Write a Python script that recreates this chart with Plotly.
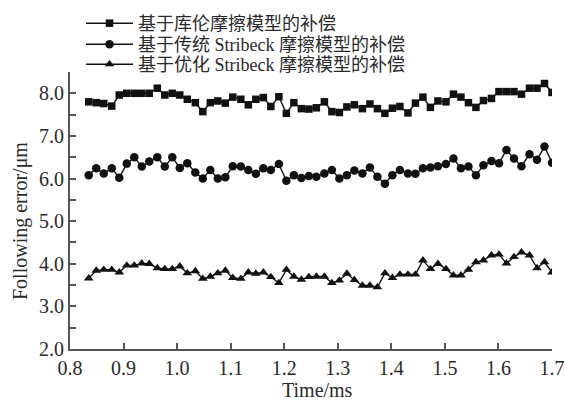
import plotly.graph_objects as go

time_ms = [0.835, 0.849, 0.863, 0.878, 0.892, 0.906, 0.920, 0.934, 0.948, 0.963,
           0.977, 0.991, 1.005, 1.019, 1.034, 1.048, 1.062, 1.076, 1.090, 1.104,
           1.119, 1.133, 1.147, 1.161, 1.175, 1.190, 1.204, 1.218, 1.232, 1.246,
           1.260, 1.275, 1.289, 1.303, 1.317, 1.331, 1.346, 1.360, 1.374, 1.388,
           1.402, 1.416, 1.431, 1.445, 1.459, 1.473, 1.487, 1.502, 1.516, 1.530,
           1.544, 1.558, 1.572, 1.587, 1.601, 1.615, 1.629, 1.643, 1.658, 1.672,
           1.686, 1.700]

coulomb = [7.80, 7.78, 7.76, 7.70, 7.96, 8.00, 8.00, 8.00, 8.00, 8.12,
           7.96, 8.00, 7.96, 7.86, 7.78, 7.57, 7.78, 7.82, 7.77, 7.91,
           7.86, 7.73, 7.86, 7.90, 7.69, 7.92, 7.53, 7.78, 7.64, 7.63,
           7.66, 7.80, 7.57, 7.55, 7.68, 7.73, 7.64, 7.75, 7.64, 7.53,
           7.65, 7.69, 7.54, 7.77, 7.91, 7.67, 7.82, 7.80, 7.98, 7.91,
           7.78, 7.67, 7.83, 7.88, 8.04, 8.04, 8.04, 7.98, 8.12, 8.12,
           8.23, 8.02]

stribeck = [6.08, 6.24, 6.12, 6.24, 6.02, 6.35, 6.50, 6.28, 6.40, 6.50,
            6.28, 6.50, 6.25, 6.36, 6.14, 6.00, 6.20, 6.00, 6.03, 6.29,
            6.28, 6.20, 6.11, 6.24, 6.20, 6.34, 5.95, 6.08, 6.01, 6.06,
            6.04, 6.12, 6.20, 6.00, 6.08, 6.19, 6.12, 6.26, 6.04, 5.88,
            6.08, 6.20, 6.12, 6.11, 6.24, 6.26, 6.29, 6.34, 6.47, 6.24,
            6.28, 6.08, 6.31, 6.41, 6.36, 6.67, 6.47, 6.29, 6.57, 6.44,
            6.75, 6.37]

optimized = [3.66, 3.84, 3.86, 3.86, 3.80, 3.96, 3.96, 4.01, 4.00, 3.90,
             3.88, 3.88, 3.94, 3.78, 3.83, 3.65, 3.70, 3.78, 3.84, 3.67,
             3.65, 3.80, 3.77, 3.80, 3.69, 3.55, 3.86, 3.70, 3.63, 3.69,
             3.70, 3.70, 3.55, 3.61, 3.77, 3.62, 3.49, 3.49, 3.45, 3.78,
             3.67, 3.75, 3.75, 3.75, 4.08, 3.88, 4.00, 3.88, 3.73, 3.73,
             3.86, 4.04, 4.08, 4.20, 4.22, 4.01, 4.16, 4.27, 4.20, 3.90,
             4.04, 3.80]

series_names = ["基于库伦摩擦模型的补偿",
                "基于传统 Stribeck 摩擦模型的补偿",
                "基于优化 Stribeck 摩擦模型的补偿"]

x_tick_vals = [0.8, 0.9, 1.0, 1.1, 1.2, 1.3, 1.4, 1.5, 1.6, 1.7]
x_tick_text = ["0.8", "0.9", "1.0", "1.1", "1.2", "1.3", "1.4", "1.5", "1.6", "1.7"]
y_tick_vals = [2.0, 2.5, 3.0, 3.5, 4.0, 4.5, 5.0, 5.5, 6.0, 6.5, 7.0, 7.5, 8.0, 8.5]
y_tick_text = ["2.0", "", "3.0", "", "4.0", "", "5.0", "", "6.0", "", "7.0", "", "8.0", ""]
x_title = "Time/ms"
y_title = "Following error/μm"

SERIF = "Liberation Serif, 'Times New Roman', 'Noto Sans CJK SC', serif"
INK = "#111111"
TXT = "#2a2a2a"
AXIS = "#555555"

W, H = 565, 401
ML, MR, MT, MB = 70, 13, 72, 52

legend_ids = ["legend", "legend2", "legend3"]
legend_rows_px = [23.5, 44.5, 64.5]  # row centres from top

fig = go.Figure()
for name, ys, sym, size, lid in [(series_names[0], coulomb, "square", 7.5, legend_ids[0]),
                                 (series_names[1], stribeck, "circle", 8.5, legend_ids[1]),
                                 (series_names[2], optimized, "triangle-up", 8.5, legend_ids[2])]:
    fig.add_trace(go.Scatter(
        x=time_ms, y=ys, name=name, mode="lines+markers", legend=lid,
        line=dict(color=INK, width=1.4),
        marker=dict(symbol=sym, size=size, color=INK),
    ))

legend_common = dict(
    xref="container", yref="container", x=81 / W, xanchor="left", yanchor="middle",
    bgcolor="rgba(0,0,0,0)", borderwidth=0, itemwidth=47,
    font=dict(family=SERIF, size=18, color=TXT),
)
legends = {lid: dict(legend_common, y=1 - row / H) for lid, row in zip(legend_ids, legend_rows_px)}

fig.update_layout(
    width=W, height=H,
    margin=dict(l=ML, r=MR, t=MT, b=MB, autoexpand=False),
    paper_bgcolor="white", plot_bgcolor="white",
    font=dict(family=SERIF, size=20, color=TXT),
    showlegend=True,
    **legends,
    xaxis=dict(
        range=[0.8, 1.7], tickmode="array", tickvals=x_tick_vals, ticktext=x_tick_text,
        ticks="inside", ticklen=6, tickwidth=1.5, tickcolor=AXIS,
        showline=True, linecolor=AXIS, linewidth=2, showgrid=False, zeroline=False,
        tickangle=0,
        tickfont=dict(family=SERIF, size=20, color=TXT),
    ),
    yaxis=dict(
        range=[2.0, 8.5], tickmode="array", tickvals=y_tick_vals, ticktext=y_tick_text,
        ticks="inside", ticklen=6, tickwidth=1.5, tickcolor=AXIS,
        showline=True, linecolor=AXIS, linewidth=2, showgrid=False, zeroline=False,
        tickfont=dict(family=SERIF, size=20, color=TXT),
    ),
)

plot_w = W - ML - MR
plot_h = H - MT - MB
fig.add_annotation(
    text=x_title, xref="paper", yref="paper",
    x=(317 - ML) / plot_w, y=-(390 - (H - MB)) / plot_h,
    xanchor="center", yanchor="middle", showarrow=False,
    font=dict(family=SERIF, size=20, color=TXT),
)
fig.add_annotation(
    text=y_title, xref="paper", yref="paper",
    x=(20 - ML) / plot_w, y=((H - MB) - 221) / plot_h,
    xanchor="center", yanchor="middle", showarrow=False, textangle=-90,
    font=dict(family=SERIF, size=20, color=TXT),
)

fig.write_html(
    "out.html",
    config={"displayModeBar": False},
    post_script="document.body.style.margin='0';document.body.style.overflow='hidden';",
)
